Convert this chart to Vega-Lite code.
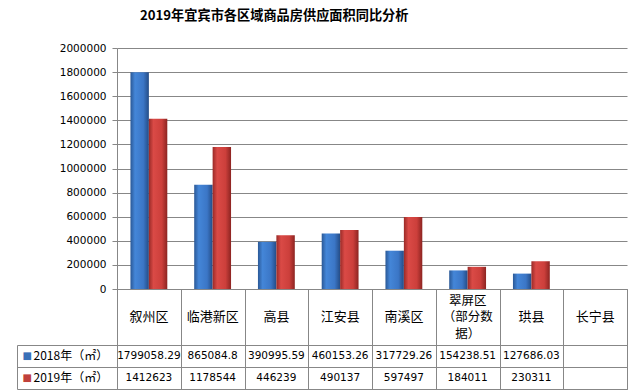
{
  "$schema": "https://vega.github.io/schema/vega-lite/v6.json",
  "padding": {"left": 16, "top": 8, "right": 16, "bottom": 2},
  "background": "white",
  "bounds": "flush",
  "title": {
    "text": "2019年宜宾市各区域商品房供应面积同比分析",
    "font": "Noto Sans CJK SC",
    "fontSize": 13.2,
    "fontWeight": "bold",
    "color": "black",
    "anchor": "start",
    "dx": 124,
    "offset": 20
  },
  "config": {
    "view": {"stroke": null},
    "axis": {"domainColor": "#878787", "gridColor": "#878787", "tickColor": "#878787", "gridOpacity": 1}
  },
  "datasets": {
    "vals": [
      {"区域": "叙州区", "年份": "2018年（㎡）", "面积": 1799058.29},
      {"区域": "临港新区", "年份": "2018年（㎡）", "面积": 865084.8},
      {"区域": "高县", "年份": "2018年（㎡）", "面积": 390995.59},
      {"区域": "江安县", "年份": "2018年（㎡）", "面积": 460153.26},
      {"区域": "南溪区", "年份": "2018年（㎡）", "面积": 317729.26},
      {"区域": "翠屏区（部分数据）", "年份": "2018年（㎡）", "面积": 154238.51},
      {"区域": "珙县", "年份": "2018年（㎡）", "面积": 127686.03},
      {"区域": "叙州区", "年份": "2019年（㎡）", "面积": 1412623},
      {"区域": "临港新区", "年份": "2019年（㎡）", "面积": 1178544},
      {"区域": "高县", "年份": "2019年（㎡）", "面积": 446239},
      {"区域": "江安县", "年份": "2019年（㎡）", "面积": 490137},
      {"区域": "南溪区", "年份": "2019年（㎡）", "面积": 597497},
      {"区域": "翠屏区（部分数据）", "年份": "2019年（㎡）", "面积": 184011},
      {"区域": "珙县", "年份": "2019年（㎡）", "面积": 230311}
    ],
    "cats": [
      {"区域": "叙州区", "标签": "叙州区", "多行": false},
      {"区域": "临港新区", "标签": "临港新区", "多行": false},
      {"区域": "高县", "标签": "高县", "多行": false},
      {"区域": "江安县", "标签": "江安县", "多行": false},
      {"区域": "南溪区", "标签": "南溪区", "多行": false},
      {"区域": "翠屏区（部分数据）", "标签": ["翠屏区", "（部分数", "据）"], "多行": true},
      {"区域": "珙县", "标签": "珙县", "多行": false},
      {"区域": "长宁县", "标签": "长宁县", "多行": false}
    ]
  },
  "spacing": 0,
  "vconcat": [
    {
      "width": 510,
      "height": 241,
      "data": {"name": "vals"},
      "encoding": {
        "x": {
          "field": "区域", "type": "nominal",
          "scale": {"domain": ["叙州区", "临港新区", "高县", "江安县", "南溪区", "翠屏区（部分数据）", "珙县", "长宁县"], "paddingInner": 0, "paddingOuter": 0},
          "axis": null
        },
        "xOffset": {
          "field": "年份", "type": "nominal",
          "scale": {"domain": ["2018年（㎡）", "2019年（㎡）"], "paddingInner": 0, "paddingOuter": 0.73}
        },
        "y": {
          "field": "面积", "type": "quantitative",
          "scale": {"domain": [0, 2000000], "nice": false},
          "axis": {
            "title": null,
            "values": [0, 200000, 400000, 600000, 800000, 1000000, 1200000, 1400000, 1600000, 1800000, 2000000],
            "format": "d",
            "grid": true,
            "tickSize": 5,
            "labelPadding": 6,
            "labelFont": "DejaVu Sans",
            "labelFontSize": 10.5,
            "labelColor": "black"
          }
        }
      },
      "layer": [
        {
          "transform": [{"filter": "datum['年份'] == '2018年（㎡）'"}],
          "mark": {
            "type": "bar",
            "fill": {
              "gradient": "linear", "x1": 0, "x2": 1, "y1": 0, "y2": 0,
              "stops": [
                {"offset": 0, "color": "#2A5896"},
                {"offset": 0.25, "color": "#4486D8"},
                {"offset": 0.7, "color": "#3B76C6"},
                {"offset": 1, "color": "#244C86"}
              ]
            }
          }
        },
        {
          "transform": [{"filter": "datum['年份'] == '2019年（㎡）'"}],
          "mark": {
            "type": "bar",
            "fill": {
              "gradient": "linear", "x1": 0, "x2": 1, "y1": 0, "y2": 0,
              "stops": [
                {"offset": 0, "color": "#9A2A27"},
                {"offset": 0.25, "color": "#DA4A46"},
                {"offset": 0.7, "color": "#CC3F3B"},
                {"offset": 1, "color": "#8C2421"}
              ]
            }
          }
        }
      ]
    },
    {
      "width": 510,
      "height": 56,
      "data": {"name": "cats"},
      "view": {"stroke": "#878787"},
      "encoding": {
        "x": {
          "field": "区域", "type": "nominal",
          "scale": {"domain": ["叙州区", "临港新区", "高县", "江安县", "南溪区", "翠屏区（部分数据）", "珙县", "长宁县"], "paddingInner": 0, "paddingOuter": 0},
          "axis": {"title": null, "tickBand": "extent", "grid": true, "ticks": false, "labels": false, "domain": false}
        },
        "text": {"field": "标签"}
      },
      "layer": [
        {
          "transform": [{"filter": "!datum['多行']"}],
          "mark": {"type": "text", "font": "Noto Sans CJK SC", "fontSize": 13, "color": "black", "baseline": "middle"}
        },
        {
          "transform": [{"filter": "datum['多行']"}],
          "mark": {"type": "text", "font": "Noto Sans CJK SC", "fontSize": 12.5, "lineHeight": 16.5, "color": "black", "baseline": "middle", "dy": -16.5}
        }
      ]
    },
    {
      "width": 510,
      "height": 44,
      "data": {"name": "vals"},
      "view": {"stroke": "#878787"},
      "encoding": {
        "x": {
          "field": "区域", "type": "nominal",
          "scale": {"domain": ["叙州区", "临港新区", "高县", "江安县", "南溪区", "翠屏区（部分数据）", "珙县", "长宁县"], "paddingInner": 0, "paddingOuter": 0},
          "axis": {"title": null, "tickBand": "extent", "grid": true, "ticks": false, "labels": false, "domain": false}
        }
      },
      "layer": [
        {
          "mark": {"type": "text", "font": "DejaVu Sans", "fontSize": 10.5, "color": "black", "baseline": "middle"},
          "encoding": {
            "y": {
              "field": "年份", "type": "nominal",
              "scale": {"domain": ["2018年（㎡）", "2019年（㎡）"], "paddingInner": 0, "paddingOuter": 0},
              "axis": {"orient": "left", "title": null, "domain": false, "ticks": false, "labelAlign": "left", "labelPadding": 84, "labelFont": "Noto Sans CJK SC", "labelFontSize": 12, "labelColor": "black"}
            },
            "text": {"field": "面积", "type": "nominal"}
          }
        },
        {
          "mark": {"type": "text", "opacity": 0},
          "encoding": {
            "y": {
              "field": "年份", "type": "nominal",
              "scale": {"domain": ["2018年（㎡）", "2019年（㎡）"], "paddingInner": 0, "paddingOuter": 0},
              "axis": {"orient": "left", "title": null, "domain": false, "labels": false, "ticks": true, "tickSize": 100, "tickBand": "extent", "grid": true}
            },
            "text": {"value": ""}
          }
        },
        {
          "mark": {"type": "text", "opacity": 0},
          "encoding": {
            "y": {
              "field": "年份", "type": "nominal",
              "scale": {"domain": ["2018年（㎡）", "2019年（㎡）"], "paddingInner": 0, "paddingOuter": 0},
              "axis": {
                "orient": "left", "offset": 100, "title": null, "domain": true, "ticks": false,
                "labelExpr": "'■'", "labelAlign": "left", "labelPadding": -5,
                "labelFont": "DejaVu Sans", "labelFontSize": 10,
                "labelColor": {"condition": {"test": "datum.value == '2018年（㎡）'", "value": "#3A70B8"}, "value": "#C0403C"}
              }
            },
            "text": {"value": ""}
          }
        }
      ],
      "resolve": {"axis": {"y": "independent"}}
    }
  ]
}
